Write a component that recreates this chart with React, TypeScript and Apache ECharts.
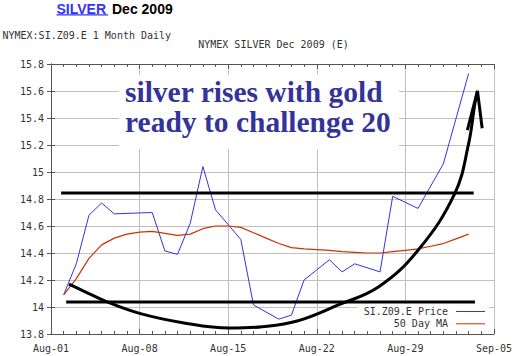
import React, { useEffect, useRef } from "react";
import * as echarts from "echarts";

// ---- data ----
const dateLabels = ["Aug-01", "Aug-08", "Aug-15", "Aug-22", "Aug-29", "Sep-05"];
const yTicks = [13.8, 15.8, 0.2]; // min, max, step

const priceName = "SI.Z09.E Price";
const priceDays = [1, 2, 3, 4, 5, 8, 9, 10, 11, 12, 13, 14, 15, 16, 18, 19, 20, 22, 23, 24, 26, 27, 29, 31, 33];
const priceValues = [14.09, 14.32, 14.68, 14.77, 14.69, 14.7, 14.415, 14.39, 14.62, 15.04, 14.72, 14.61, 14.5, 14.015, 13.91, 13.94, 14.2, 14.35, 14.26, 14.32, 14.26, 14.82, 14.73, 15.06, 15.73];

const maName = "50 Day MA";
const maDays = [1, 2, 3, 4, 5, 6, 7, 8, 9, 10, 11, 12, 13, 14, 15, 16, 17, 18, 19, 20, 21, 22, 23, 24, 25, 26, 27, 28, 29, 30, 31, 32, 33];
const maValues = [14.09, 14.21, 14.36, 14.46, 14.51, 14.54, 14.555, 14.56, 14.545, 14.53, 14.54, 14.58, 14.6, 14.6, 14.59, 14.55, 14.51, 14.47, 14.44, 14.43, 14.425, 14.42, 14.41, 14.405, 14.4, 14.4, 14.41, 14.42, 14.43, 14.45, 14.47, 14.505, 14.54];

// hand-drawn annotations (data coordinates)
const resistanceDays = [0.8, 33.4];
const resistanceLevel = 14.845;
const supportDays = [1.2, 33.5];
const supportLevel = 14.037;
const curveDays = [1.42, 2.54, 4.38, 7, 10.4, 14.08, 16.7, 19.46, 22.7, 25.9, 29.0, 31.9, 33.0, 33.5, 33.7];
const curveValues = [14.17, 14.12, 14.04, 13.953, 13.884, 13.844, 13.854, 13.896, 14.015, 14.15, 14.42, 14.84, 15.21, 15.51, 15.6];
const arrowDays = [32.9, 33.7, 34.07];
const arrowValues = [15.31, 15.6, 15.324];

const annotationLines = ["silver rises with gold", "ready to challenge 20"];

const MONO = '"DejaVu Sans Mono", monospace';

export default function App() {
  const ref = useRef<HTMLDivElement>(null);
  useEffect(() => {
    if (!ref.current) return;
    const chart = echarts.init(ref.current, undefined, { renderer: "svg" });
    const pairs = (xs: number[], ys: number[]) => xs.map((x, i) => [x, ys[i]]);
    const axisColor = "#555";
    const gridColor = "#c0c0c0";
    const xBase = {
      type: "value" as const,
      min: 0,
      max: 35,
      interval: 7,
      axisLine: { show: true, lineStyle: { color: axisColor, width: 1 } },
      axisTick: { show: true, inside: true, length: 5, lineStyle: { color: axisColor } },
      minorTick: { show: true, splitNumber: 7, length: 3, lineStyle: { color: axisColor } },
    };
    const yBase = {
      type: "value" as const,
      min: yTicks[0],
      max: yTicks[1],
      interval: yTicks[2],
      axisLine: { show: true, lineStyle: { color: axisColor, width: 1 } },
      axisTick: { show: true, inside: true, length: 4, lineStyle: { color: axisColor } },
    };
    const black = (name: string, data: number[][], smooth: any = false) => ({
      name,
      type: "line",
      data,
      smooth,
      showSymbol: false,
      symbol: "none",
      silent: true,
      z: 4,
      lineStyle: { color: "#000", width: 3 },
    });
    chart.setOption({
      animation: false,
      backgroundColor: "#fff",
      grid: { left: 51, right: 19, top: 64, bottom: 22, containLabel: false },
      xAxis: [
        {
          ...xBase,
          position: "bottom",
          splitLine: { show: true, lineStyle: { color: gridColor } },
          axisLabel: {
            formatter: (v: number) => dateLabels[Math.round(v / 7)] ?? "",
            fontFamily: MONO,
            fontSize: 10,
            color: "#333",
            margin: 9,
          },
        },
        {
          ...xBase,
          position: "top",
          splitLine: { show: false },
          axisLabel: { show: false },
        },
      ],
      yAxis: [
        {
          ...yBase,
          position: "left",
          splitLine: { show: true, lineStyle: { color: gridColor } },
          axisLabel: {
            formatter: (v: number) => String(Number(v.toFixed(1))),
            fontFamily: MONO,
            fontSize: 10,
            color: "#333",
            margin: 7,
          },
        },
        {
          ...yBase,
          position: "right",
          splitLine: { show: false },
          axisLabel: { show: false },
        },
      ],
      legend: {
        data: [{ name: priceName }, { name: maName }],
        orient: "vertical",
        right: 26,
        top: 304,
        align: "right",
        icon: "rect",
        itemWidth: 29,
        itemHeight: 1,
        itemGap: 1.3,
        backgroundColor: "#fff",
        padding: [2, 4, 2, 6],
        textStyle: { fontFamily: MONO, fontSize: 10, color: "#333", lineHeight: 11, padding: [0, 3, 0, 0] },
        selectedMode: false,
        z: 20,
      },
      series: [
        {
          name: priceName,
          type: "line",
          data: pairs(priceDays, priceValues),
          showSymbol: false,
          symbol: "none",
          color: "#3333dd",
          lineStyle: { color: "#3333dd", width: 1 },
          z: 3,
        },
        {
          name: maName,
          type: "line",
          data: pairs(maDays, maValues),
          showSymbol: false,
          symbol: "none",
          color: "#cc3300",
          lineStyle: { color: "#cc3300", width: 1.2 },
          z: 3,
        },
        black("resistance", pairs(resistanceDays, [resistanceLevel, resistanceLevel])),
        black("support", pairs(supportDays, [supportLevel, supportLevel])),
        black("curve", pairs(curveDays, curveValues), 0.4),
        black("arrow", pairs(arrowDays, arrowValues)),
      ],
      graphic: [
        { type: "rect", z: 50, shape: { x: 119, y: 75, width: 280, height: 74 }, style: { fill: "#fff" } },
        {
          type: "text", z: 51, x: 125, y: 92,
          style: { text: annotationLines[0], font: 'bold 29.5px "Liberation Serif", serif', fill: "#333399", align: "left", verticalAlign: "middle" },
        },
        {
          type: "text", z: 51, x: 125, y: 122,
          style: { text: annotationLines[1], font: 'bold 29.5px "Liberation Serif", serif', fill: "#333399", align: "left", verticalAlign: "middle" },
        },
        {
          type: "text", z: 51, x: 56.5, y: 9,
          style: { text: "SILVER", font: 'bold 14px "Liberation Sans", Arial, sans-serif', fill: "#3333ff", align: "left", verticalAlign: "middle" },
        },
        { type: "rect", z: 51, shape: { x: 56.5, y: 14.2, width: 51.5, height: 1.4 }, style: { fill: "#3333ff" } },
        {
          type: "text", z: 51, x: 112, y: 9,
          style: { text: "Dec 2009", font: 'bold 14px "Liberation Sans", Arial, sans-serif', fill: "#000", align: "left", verticalAlign: "middle" },
        },
        {
          type: "text", z: 51, x: 2.5, y: 35,
          style: { text: "NYMEX:SI.Z09.E 1 Month Daily", font: `10px ${MONO}`, fill: "#333", align: "left", verticalAlign: "middle" },
        },
        {
          type: "text", z: 51, x: 273.5, y: 44,
          style: { text: "NYMEX SILVER Dec 2009 (E)", font: `10px ${MONO}`, fill: "#333", align: "center", verticalAlign: "middle" },
        },
      ],
    });
    return () => chart.dispose();
  }, []);
  return <div ref={ref} style={{ position: "fixed", left: 0, top: 0, width: 515, height: 356 }} />;
}
